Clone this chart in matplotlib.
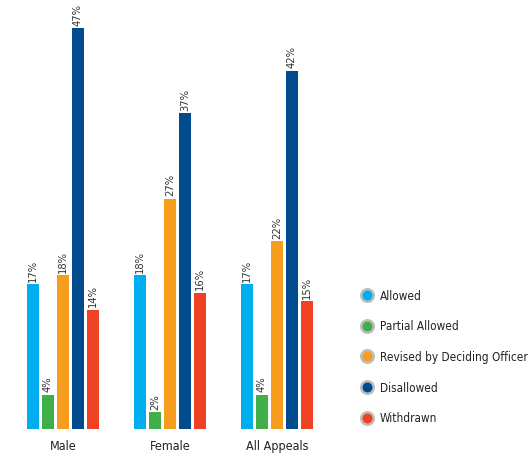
import numpy as np
import matplotlib
matplotlib.use("Agg")
import matplotlib.pyplot as plt

groups = ["Male", "Female", "All Appeals"]
series = ["Allowed", "Partial Allowed", "Revised by Deciding Officer", "Disallowed", "Withdrawn"]
values = [
    [17, 18, 17],   # Allowed
    [4, 2, 4],      # Partial Allowed
    [18, 27, 22],   # Revised by Deciding Officer
    [47, 37, 42],   # Disallowed
    [14, 16, 15],   # Withdrawn
]
colors = ["#00AEEF", "#40AE49", "#F79D1E", "#004B8D", "#EF4123"]

plt.rcParams['font.family'] = ['DejaVu Sans']
plt.rcParams['font.stretch'] = 'condensed'

fig = plt.figure(figsize=(5.28, 4.56), dpi=100)
ax = fig.add_axes([9.5 / 528, 26 / 456, 321 / 528, 430 / 456])

x = np.arange(len(groups))
step = 15 / 107
width = 12 / 107
for i, (name, vals) in enumerate(zip(series, values)):
    pos = x + (i - 2) * step
    ax.bar(pos, vals, width=width, color=colors[i])
    for p, v in zip(pos, vals):
        ax.text(p, v + 0.4, f"{v}%", rotation=90, ha="center", va="bottom",
                fontsize=8, color="#333333")

ax.set_xlim(-0.5, 2.5)
ax.set_ylim(0, 430 / 8.53)
ax.set_xticks(x)
ax.set_xticklabels(groups, fontsize=9, color="#222222")
ax.tick_params(axis="x", length=0, pad=7)
ax.set_yticks([])
for s in ax.spines.values():
    s.set_visible(False)

# legend
for i, name in enumerate(series):
    yf = 1 - (296 + i * 30.7) / 456
    fig.add_artist(plt.Line2D([367 / 528], [yf], marker="o", markersize=9,
                              markerfacecolor=colors[i], markeredgecolor="#BDBDBD",
                              markeredgewidth=1.8, linestyle="none",
                              transform=fig.transFigure))
    fig.text(380 / 528, yf, name, fontsize=8.5, color="#222222", va="center", ha="left")

fig.savefig("out.png", dpi=100, facecolor="white")
